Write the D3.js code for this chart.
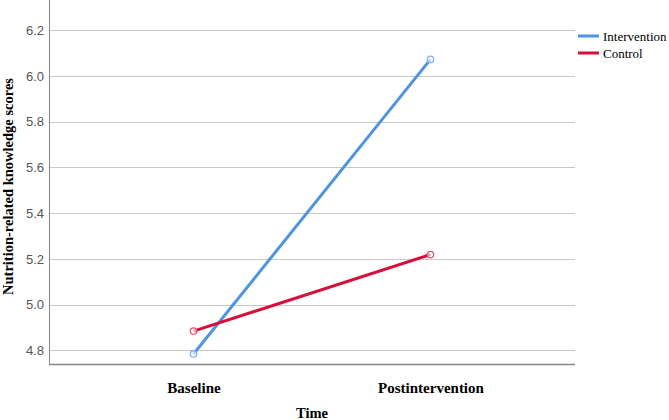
<!DOCTYPE html>
<html><head><meta charset="utf-8">
<script src="https://cdn.jsdelivr.net/npm/d3@7"></script>
<style>body{margin:0;background:#fff}svg{display:block}</style>
</head><body>
<svg id="c" width="669" height="420"></svg>
<script>
const categories = ["Baseline", "Postintervention"];
const seriesNames = ["Intervention", "Control"];
const intervention = [4.784, 6.073];
const control = [4.884, 5.219];
const yTicks = [4.8, 5.0, 5.2, 5.4, 5.6, 5.8, 6.0, 6.2];
const colors = ["#4f93e3", "#d60f3a"];
const markerColors = ["#7fb0ec", "#e0566f"];

const svg = d3.select("#c");
const L = 49, R = 575, T = 0, B = 364;
const x = d3.scalePoint().domain(categories).range([L, R]).padding(0.61);
const y = d3.scaleLinear().domain([4.74, 6.333]).range([B, T]);

// gridlines
svg.append("g").selectAll("line").data(yTicks).join("line")
  .attr("x1", L).attr("x2", R)
  .attr("y1", d => Math.round(y(d)) + 0.5).attr("y2", d => Math.round(y(d)) + 0.5)
  .attr("stroke", "#c8c8c8").attr("stroke-width", 1);

// y axis
const yAxis = svg.append("g").attr("transform", `translate(${L},0)`)
  .call(d3.axisLeft(y).tickValues(yTicks).tickFormat(d3.format(".1f")).tickSize(0).tickPadding(5));
yAxis.select(".domain").remove();
yAxis.selectAll("text").attr("font-family", "Liberation Sans, Arial, sans-serif")
  .attr("font-size", 13).attr("fill", "#555");

svg.append("line").attr("x1", L + 0.5).attr("x2", L + 0.5).attr("y1", T).attr("y2", B)
  .attr("stroke", "#888").attr("stroke-width", 1);

// x axis
const xAxis = svg.append("g").attr("transform", `translate(0,${B})`)
  .call(d3.axisBottom(x).tickSize(0).tickPadding(18));
xAxis.select(".domain").remove();
xAxis.selectAll("text").attr("font-family", "Liberation Serif, Times New Roman, serif")
  .attr("font-size", 15).attr("font-weight", "bold").attr("fill", "#000");
svg.append("line").attr("x1", L).attr("x2", R).attr("y1", B + 0.5).attr("y2", B + 0.5)
  .attr("stroke", "#888").attr("stroke-width", 1.5);

// axis titles
svg.append("text").attr("x", (L + R) / 2).attr("y", 418).attr("text-anchor", "middle")
  .attr("font-family", "Liberation Serif, Times New Roman, serif").attr("font-size", 14.5)
  .attr("font-weight", "bold").text("Time");
svg.append("text").attr("transform", `translate(12.5,${186.5}) rotate(-90)`).attr("text-anchor", "middle")
  .attr("font-family", "Liberation Serif, Times New Roman, serif").attr("font-size", 14.5)
  .attr("font-weight", "bold").text("Nutrition-related knowledge scores");

// lines
const data = [intervention, control];
const line = d3.line().x((d, i) => x(categories[i])).y(d => y(d));
data.forEach((vals, s) => {
  svg.append("path").datum(vals).attr("d", line).attr("fill", "none")
    .attr("stroke", colors[s]).attr("stroke-width", 3);
  svg.append("g").selectAll("circle").data(vals).join("circle")
    .attr("cx", (d, i) => x(categories[i])).attr("cy", d => y(d)).attr("r", 3.2)
    .attr("fill", "#fff").attr("fill-opacity", 0.6).attr("stroke", markerColors[s]).attr("stroke-width", 1.3);
});

// legend
const lg = svg.append("g");
seriesNames.forEach((n, i) => {
  const yy = 36 + i * 17;
  lg.append("line").attr("x1", 578).attr("x2", 599).attr("y1", yy).attr("y2", yy)
    .attr("stroke", colors[i]).attr("stroke-width", 3);
  lg.append("text").attr("x", 603).attr("y", yy + 4.5)
    .attr("font-family", "Liberation Serif, Times New Roman, serif").attr("font-size", 13)
    .attr("fill", "#000").text(n);
});
</script>
</body></html>
